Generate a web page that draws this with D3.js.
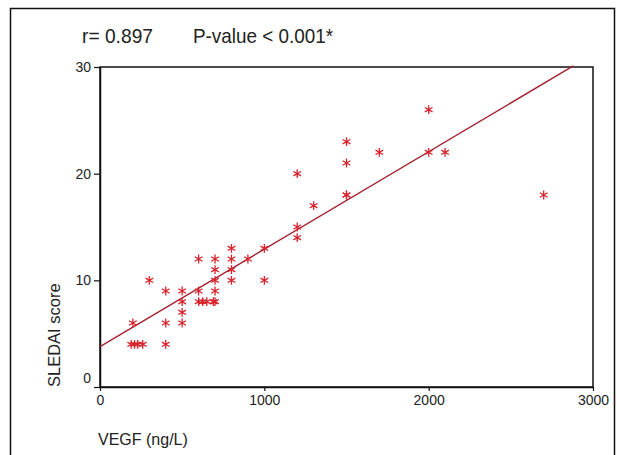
<!DOCTYPE html>
<html>
<head>
<meta charset="utf-8">
<script src="https://cdn.jsdelivr.net/npm/d3@7"></script>
<style>
	body { margin: 0; background: #fff; }
	text { font-family: "Liberation Sans", Arial, sans-serif; fill: #222; }
</style>
</head>
<body>
<div id="chart"></div>
<script>
// VEGF (ng/L) vs SLEDAI score
const vegf = [190, 210, 230, 260, 400,
	200, 400, 500,
	500,
	500, 600, 625, 650, 690, 700,
	400, 500, 600, 700,
	300, 700, 800, 1000,
	700, 800,
	600, 700, 800, 900,
	800, 1000,
	1200, 1200, 1300, 1500, 1500, 1200, 1500, 1500, 1700, 2000, 2100, 2000, 2700];
const sledai = [4, 4, 4, 4, 4,
	6, 6, 6,
	7,
	8, 8, 8, 8, 8, 8,
	9, 9, 9, 9,
	10, 10, 10, 10,
	11, 11,
	12, 12, 12, 12,
	13, 13,
	14, 15, 17, 18, 18, 20, 21, 23, 22, 22, 22, 26, 18];

// fitted line
const fitIntercept = 3.78;
const fitSlope = 0.00914;
const fitRange = [0, 2880];

const xTicks = [0, 1000, 2000, 3000];
const yTicks = [0, 10, 20, 30];

const W = 617, H = 455;
const margin = { top: 67, right: 24, bottom: 68, left: 100 },
	width = W - margin.left - margin.right,
	height = H - margin.top - margin.bottom;

const svg = d3.select("#chart")
	.append("svg")
	.attr("width", W)
	.attr("height", H);

// outer frame (runs off the bottom of the picture)
svg.append("path")
	.attr("d", `M10.5,${H + 5}V8.5H614.5V${H + 5}`)
	.attr("fill", "none")
	.attr("stroke", "#111")
	.attr("stroke-width", 1.5);

svg.append("text")
	.attr("x", 82)
	.attr("y", 43)
	.attr("font-size", "21px")
	.attr("textLength", 71)
	.attr("lengthAdjust", "spacingAndGlyphs")
	.text("r= 0.897");

svg.append("text")
	.attr("x", 193)
	.attr("y", 43)
	.attr("font-size", "21px")
	.attr("textLength", 140)
	.attr("lengthAdjust", "spacingAndGlyphs")
	.text("P-value < 0.001*");

const g = svg.append("g")
	.attr("transform", `translate(${margin.left}, ${margin.top})`);

const x = d3.scaleLinear().domain([0, 3000]).range([0, width]);
const y = d3.scaleLinear().domain([0, 30]).range([height, 0]);

// plot box
g.append("rect")
	.attr("width", width)
	.attr("height", height)
	.attr("fill", "none")
	.attr("stroke", "#111")
	.attr("stroke-width", 1.5);

const xAxis = g.append("g")
	.attr("transform", `translate(0, ${height})`)
	.call(d3.axisBottom(x).tickValues(xTicks).tickFormat(d3.format("d")).tickSize(4).tickSizeOuter(0).tickPadding(4));

const yAxis = g.append("g")
	.call(d3.axisLeft(y).tickValues(yTicks).tickSize(6).tickSizeOuter(0).tickPadding(3));

[xAxis, yAxis].forEach(a => {
	a.select(".domain").attr("stroke", "#111").attr("stroke-width", 1.5);
	a.selectAll("line").attr("stroke", "#111").attr("stroke-width", 1.2);
	a.selectAll("text").attr("font-size", "14px").attr("fill", "#222")
		.style("font-family", "'Liberation Sans', Arial, sans-serif");
});
// the "0" on the y axis sits a little higher
yAxis.selectAll(".tick").filter(d => d === 0).select("text").attr("y", -9);

// regression line
g.append("line")
	.attr("x1", x(fitRange[0]))
	.attr("y1", y(fitIntercept + fitSlope * fitRange[0]))
	.attr("x2", x(fitRange[1]))
	.attr("y2", y(fitIntercept + fitSlope * fitRange[1]))
	.attr("stroke", "#a21f2c")
	.attr("stroke-width", 1.3);

// star markers
const star = d3.symbol().type(d3.symbolAsterisk).size(55);
g.selectAll(".pt")
	.data(vegf.map((v, i) => ({ v: v, s: sledai[i] })))
	.enter()
	.append("path")
	.attr("class", "pt")
	.attr("transform", d => `translate(${x(d.v)}, ${y(d.s)})`)
	.attr("d", star)
	.attr("fill", "none")
	.attr("stroke", "#d8232c")
	.attr("stroke-width", 1.3);

// axis titles
svg.append("text")
	.attr("transform", "translate(60, 387) rotate(-90)")
	.attr("font-size", "16.5px")
	.text("SLEDAI score");

svg.append("text")
	.attr("x", 98)
	.attr("y", 445)
	.attr("font-size", "16px")
	.text("VEGF (ng/L)");
</script>
</body>
</html>
